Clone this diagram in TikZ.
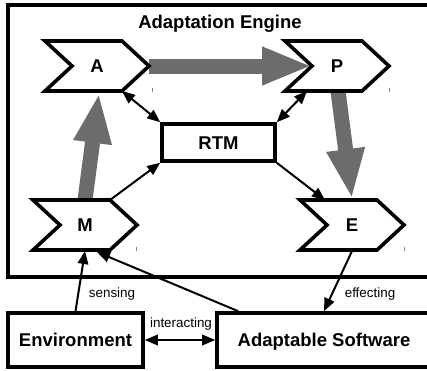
\documentclass[tikz,border=0pt]{standalone}
\usepackage{fontspec}
\setmainfont{Liberation Sans}
\usetikzlibrary{arrows.meta,calc}
\definecolor{flowgray}{RGB}{108,108,108}
\definecolor{tickgray}{RGB}{130,130,130}
\newcommand\bigboldtxt{\fontsize{18.5}{22}\selectfont\bfseries}
\newcommand\smalltxt{\fontsize{13.4}{16}\selectfont}
\tikzset{
  frameline/.style={line width=3.6pt,draw=black},
  chevline/.style={line width=3.6pt,draw=black,fill=white,line join=miter},
  boxnode/.style={draw=black,line width=3.6pt,fill=white,inner sep=0pt,font=\bigboldtxt,text height=13.4pt,text depth=0pt},
  lblnode/.style={inner sep=0pt,font=\bigboldtxt,text height=13.4pt,text depth=0pt},
  smalllbl/.style={inner sep=0pt,font=\smalltxt,anchor=base},
  flow/.style={draw=flowgray,line width=15pt,-{Triangle[length=50pt,width=35pt]}},
  link/.style={draw=black,line width=2pt,-{Triangle[length=13pt,width=10.5pt]}},
  duallink/.style={draw=black,line width=2pt,{Triangle[length=13pt,width=10.5pt]}-{Triangle[length=13pt,width=10.5pt]}},
  tickmark/.style={draw=tickgray,line width=0.9pt},
}
\newcommand\chevcoords[3]{%
  \coordinate (#1-c) at (#2,#3);
  \coordinate (#1-nw) at ($(#1-c)+(-52,-25)$);
  \coordinate (#1-ne) at ($(#1-c)+(25,-25)$);
  \coordinate (#1-e) at ($(#1-c)+(52,0)$);
  \coordinate (#1-se) at ($(#1-c)+(25,25)$);
  \coordinate (#1-sw) at ($(#1-c)+(-52,25)$);
  \coordinate (#1-w) at ($(#1-c)+(-25,0)$);
}
\newcommand\chevdraw[2]{%
  \draw[chevline] (#1-nw) -- (#1-ne) -- (#1-e) -- (#1-se) -- (#1-sw) -- (#1-w) -- cycle;
  \node[lblnode] (#1) at (#1-c) {#2};
}
\begin{document}
\begin{tikzpicture}[x=1pt,y=-1pt]
\useasboundingbox (0,0) rectangle (427,370);
\clip (0,0) rectangle (427,370);
\fill[white] (0,0) rectangle (427,370);

% engine frame
\draw[frameline] (8,5) rectangle (432,277);
\node[lblnode,anchor=base] (title) at (220,28) {Adaptation Engine};

\chevcoords{A}{97}{66}
\chevcoords{P}{337}{66}
\chevcoords{M}{85}{225}
\chevcoords{E}{352}{225}

% thick flow arrows
\draw[flow] (A-e) -- (P-w);
\draw[flow] ($(M-c)+(0,-25)$) -- ($(A-c)+(2,27)$);
\draw[flow] ($(P-c)+(1,25)$) -- ($(E-c)+(0,-26)$);

\chevdraw{A}{A}
\chevdraw{P}{P}
\chevdraw{M}{M}
\chevdraw{E}{E}

\node[boxnode,minimum width=113pt,minimum height=37pt] (rtm) at (218.5,142.5) {RTM};

\node[boxnode,minimum width=135pt,minimum height=54pt] (env) at (75.5,340) {Environment};
\node[boxnode,minimum width=214pt,minimum height=54pt] (soft) at (324,340) {Adaptable Software};

% small tick marks
\draw[tickmark] (152,88) -- (152,92);
\draw[tickmark] (389,88) -- (389,92);
\draw[tickmark] (136,247) -- (136,251);
\draw[tickmark] (404,247) -- (404,251);

% thin links
\draw[duallink] (A-se) -- (rtm.north west);
\draw[duallink] ($(P-c)+(-30,25)$) -- (rtm.north east);
\draw[link] (M-ne) -- (rtm.south west);
\draw[link] (rtm.south east) -- ($(E-c)+(-27,-25)$);
\draw[link] (env.north) -- ($(M-c)+(0,26)$);
\draw[link] ($(soft.north west)+(23,0)$) -- ($(M-c)+(12,27)$);
\draw[link] ($(E-c)+(0,26)$) -- (soft.north);
\draw[duallink] (env.east) -- (soft.west);

\node[smalllbl] (sensing) at (112,297) {sensing};
\node[smalllbl] (effecting) at (370,297) {effecting};
\node[smalllbl] (interacting) at (181,327) {interacting};
\end{tikzpicture}
\end{document}
